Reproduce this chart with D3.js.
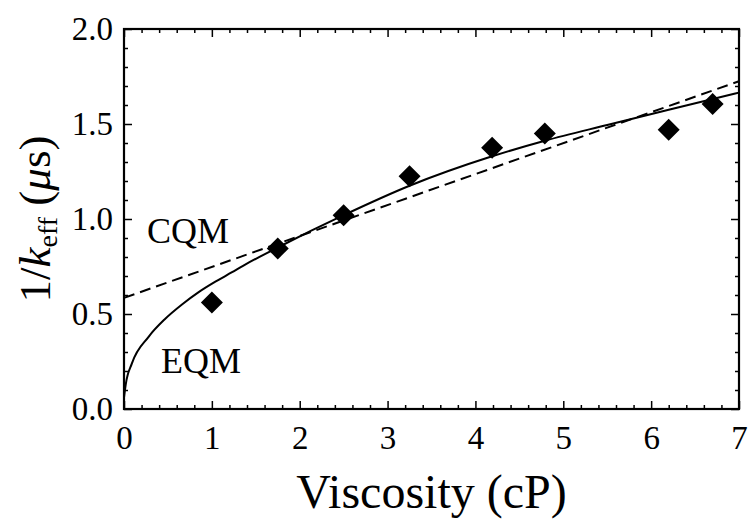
<!DOCTYPE html>
<html>
<head>
<meta charset="utf-8">
<script src="https://cdn.jsdelivr.net/npm/d3@7"></script>
<style>
  body { margin: 0; background: #fff; }
  svg { display: block; }
  text { font-family: "Liberation Serif", "DejaVu Serif", serif; fill: #000; }
</style>
</head>
<body>
<svg id="chart" width="750" height="519"></svg>
<script>
// measured points (viscosity in cP, 1/k_eff in microseconds)
var viscosity = [1.0, 1.75, 2.5, 3.25, 4.19, 4.79, 6.2, 6.7];
var invK = [0.56, 0.845, 1.02, 1.225, 1.375, 1.45, 1.47, 1.605];

// EQM fit curve
var eqmX = [0, 0.02, 0.09, 0.28, 0.47, 0.66, 0.85, 1.04, 1.23, 1.36, 1.75, 2.5, 3.25, 4.19, 4.79, 5.5, 6.2, 7.0];
var eqmY = [0.06, 0.13, 0.24, 0.38, 0.475, 0.55, 0.615, 0.67, 0.72, 0.755, 0.85, 1.02, 1.175, 1.33, 1.412, 1.495, 1.575, 1.665];

// CQM fit line (two end points)
var cqmX = [0, 7];
var cqmY = [0.585, 1.725];

var xTicks = [0, 1, 2, 3, 4, 5, 6, 7];
var yTicks = [0.0, 0.5, 1.0, 1.5, 2.0];

var svg = d3.select('#chart');
var mLeft = 124, mRight = 739, mTop = 29, mBottom = 409;

var x = d3.scaleLinear().domain([0, 7]).range([mLeft, mRight]);
var y = d3.scaleLinear().domain([0, 2]).range([mBottom, mTop]);

var xMinor = d3.range(0, 7.001, 0.2).filter(function(v) { return Math.abs(v - Math.round(v)) > 0.01; });
var yMinor = d3.range(0, 2.001, 0.1).filter(function(v) { return Math.abs(v * 2 - Math.round(v * 2)) > 0.01; });

function styleAxis(g) {
  g.select('.domain').remove();
  g.selectAll('line').attr('stroke', '#000').attr('stroke-width', 1.5);
}

// bottom
svg.append('g').attr('transform', 'translate(0,' + mBottom + ')')
  .call(d3.axisBottom(x).tickValues(xTicks).tickSize(-8).tickFormat(d3.format('d')).tickPadding(17))
  .call(styleAxis)
  .selectAll('text').attr('font-size', 33).attr('font-family', '"Liberation Serif", serif');
svg.append('g').attr('transform', 'translate(0,' + mBottom + ')')
  .call(d3.axisBottom(x).tickValues(xMinor).tickSize(-4).tickFormat(''))
  .call(styleAxis);
// top
svg.append('g').attr('transform', 'translate(0,' + mTop + ')')
  .call(d3.axisTop(x).tickValues(xTicks).tickSize(-8).tickFormat(''))
  .call(styleAxis);
svg.append('g').attr('transform', 'translate(0,' + mTop + ')')
  .call(d3.axisTop(x).tickValues(xMinor).tickSize(-4).tickFormat(''))
  .call(styleAxis);
// left
svg.append('g').attr('transform', 'translate(' + mLeft + ',0)')
  .call(d3.axisLeft(y).tickValues(yTicks).tickSize(-8).tickFormat(d3.format('.1f')).tickPadding(11))
  .call(styleAxis)
  .selectAll('text').attr('font-size', 33).attr('font-family', '"Liberation Serif", serif');
svg.append('g').attr('transform', 'translate(' + mLeft + ',0)')
  .call(d3.axisLeft(y).tickValues(yMinor).tickSize(-4).tickFormat(''))
  .call(styleAxis);
// right
svg.append('g').attr('transform', 'translate(' + mRight + ',0)')
  .call(d3.axisRight(y).tickValues(yTicks).tickSize(-8).tickFormat(''))
  .call(styleAxis);
svg.append('g').attr('transform', 'translate(' + mRight + ',0)')
  .call(d3.axisRight(y).tickValues(yMinor).tickSize(-4).tickFormat(''))
  .call(styleAxis);

// frame
svg.append('rect')
  .attr('x', mLeft).attr('y', mTop)
  .attr('width', mRight - mLeft).attr('height', mBottom - mTop)
  .attr('fill', 'none').attr('stroke', '#000').attr('stroke-width', 2.2);

var line = d3.line()
  .x(function(d) { return x(d[0]); })
  .y(function(d) { return y(d[1]); });

svg.append('path')
  .datum(d3.zip(cqmX, cqmY))
  .attr('d', line)
  .attr('fill', 'none').attr('stroke', '#000').attr('stroke-width', 2)
  .attr('stroke-dasharray', '11,6');

svg.append('path')
  .datum(d3.zip(eqmX, eqmY))
  .attr('d', line.curve(d3.curveMonotoneX))
  .attr('fill', 'none').attr('stroke', '#000').attr('stroke-width', 2);

// diamonds
var dh = 11;
svg.append('g').selectAll('path')
  .data(d3.zip(viscosity, invK))
  .join('path')
  .attr('transform', function(d) { return 'translate(' + x(d[0]) + ',' + y(d[1]) + ')'; })
  .attr('d', 'M0,' + (-dh) + 'L' + dh + ',0L0,' + dh + 'L' + (-dh) + ',0Z')
  .attr('fill', '#000');

// curve labels
svg.append('text').attr('x', 147).attr('y', 243).attr('font-size', 36).text('CQM');
svg.append('text').attr('x', 161).attr('y', 373).attr('font-size', 36).text('EQM');

// axis titles
svg.append('text')
  .attr('x', (mLeft + mRight) / 2).attr('y', 508)
  .attr('text-anchor', 'middle').attr('font-size', 48)
  .text('Viscosity (cP)');

var yt = svg.append('text')
  .attr('transform', 'translate(50,' + ((mTop + mBottom) / 2) + ') rotate(-90)')
  .attr('text-anchor', 'middle').attr('font-size', 45);
yt.append('tspan').text('1/');
yt.append('tspan').attr('font-style', 'italic').text('k');
yt.append('tspan').attr('font-size', 28).attr('dy', 7).text('eff');
yt.append('tspan').attr('dy', -7).text(' (');
yt.append('tspan').attr('font-style', 'italic').text('\u03bc');
yt.append('tspan').text('s)');
</script>
</body>
</html>
